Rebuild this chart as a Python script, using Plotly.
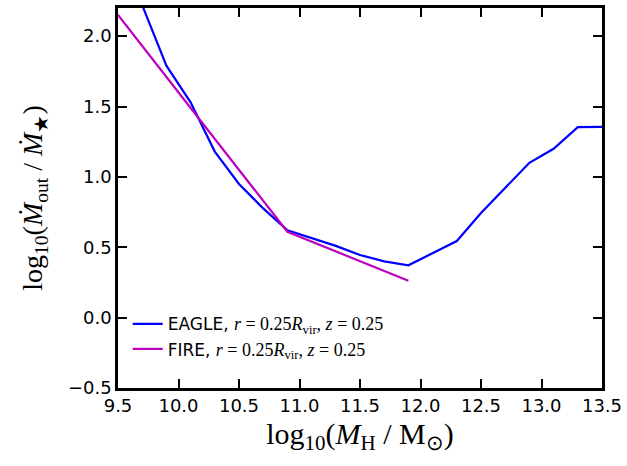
import plotly.graph_objects as go

eagle_x = [9.7, 9.9, 10.1, 10.3, 10.5, 10.7, 10.9, 11.1, 11.3, 11.5, 11.7, 11.9,
           12.1, 12.3, 12.5, 12.7, 12.9, 13.1, 13.3, 13.5]
eagle_y = [2.22, 1.79, 1.53, 1.18, 0.95, 0.776, 0.62, 0.565, 0.51, 0.445, 0.40, 0.372,
           0.46, 0.544, 0.743, 0.92, 1.10, 1.20, 1.354, 1.355]
fire_x = [9.5, 10.9, 11.9]
fire_y = [2.15, 0.61, 0.262]

xticks = [9.5, 10.0, 10.5, 11.0, 11.5, 12.0, 12.5, 13.0, 13.5]
yticks = [-0.5, 0.0, 0.5, 1.0, 1.5, 2.0]

SERIF = "Liberation Serif"
def m(s):
    return f'<span style="font-family:{SERIF};font-size:18px">{s}</span>'

lab_tail = m("<i>r</i> = 0.25<i>R</i><sub>vir</sub>, <i>z</i> = 0.25")

fig = go.Figure()
fig.add_trace(go.Scatter(x=eagle_x, y=eagle_y, mode="lines",
                         line=dict(color="#0000ff", width=2.2),
                         name="EAGLE, " + lab_tail))
fig.add_trace(go.Scatter(x=fire_x, y=fire_y, mode="lines",
                         line=dict(color="#bf00bf", width=2.2),
                         name="FIRE, " + lab_tail))

axis_common = dict(
    showgrid=False, zeroline=False, showline=True, linecolor="black", linewidth=2.5,
    mirror="ticks", ticks="inside", ticklen=9, tickwidth=1.5, tickcolor="black",
    tickfont=dict(family="DejaVu Sans", size=18, color="black"),
)
fig.update_layout(
    width=627, height=466,
    margin=dict(l=118, r=24, t=5, b=78),
    plot_bgcolor="white", paper_bgcolor="white",
    xaxis=dict(range=[9.5, 13.5], tickvals=xticks,
               ticktext=[f"{v:.1f}" for v in xticks],
               title=dict(text="log<sub>10</sub>(<i>M</i><sub>H</sub> / M<sub>⊙</sub>)",
                          font=dict(family=SERIF, size=30, color="black"), standoff=8),
               **axis_common),
    yaxis=dict(range=[-0.5, 2.2], tickvals=yticks,
               ticktext=[f"{v:.1f}".replace("-", "−") for v in yticks],
               title=dict(text="log<sub>10</sub>(<i>Ṁ</i><sub>out</sub> / <i>Ṁ</i><sub>★</sub>)",
                          font=dict(family=SERIF, size=28, color="black"), standoff=18),
               **axis_common),
    legend=dict(x=0.02, y=0.215, xanchor="left", yanchor="top",
                bgcolor="rgba(0,0,0,0)", borderwidth=0,
                font=dict(family="DejaVu Sans", size=17, color="black"),
                tracegroupgap=9),
    showlegend=True,
)
fig.write_html("out.html", config={"displayModeBar": False},
               post_script="document.body.style.margin='0';")
